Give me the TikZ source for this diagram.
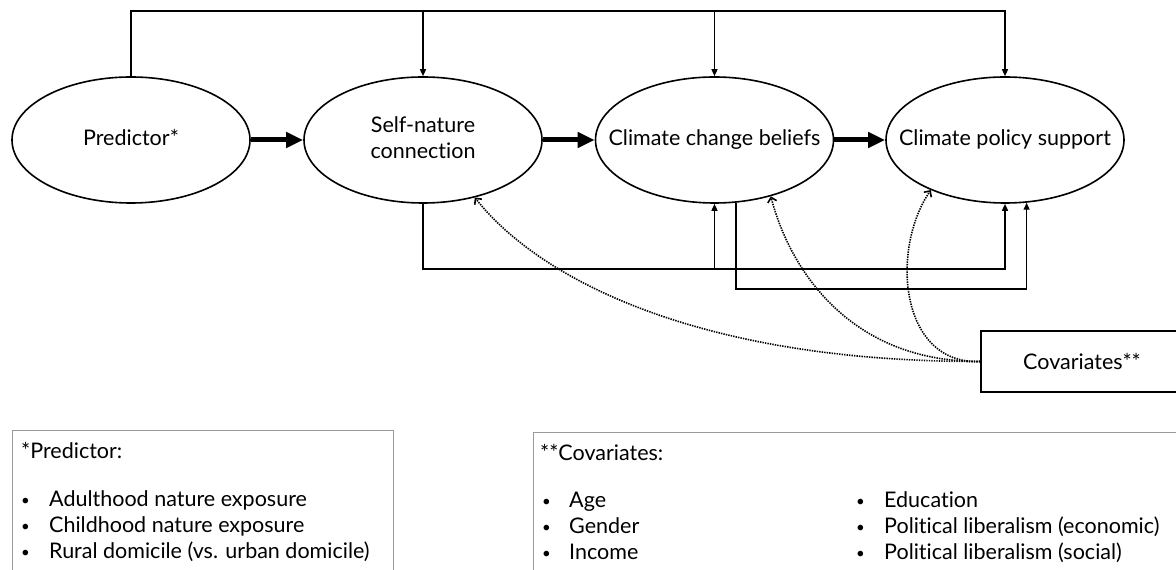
\documentclass[tikz,border=0pt]{standalone}
\usepackage{fontspec}
\setmainfont[Ligatures={NoCommon}]{Lato}
\usetikzlibrary{arrows.meta,shapes.geometric}
\newcommand{\fitin}[1]{\makebox[0pt][c]{\begin{tabular}{@{}c@{}}#1\end{tabular}}}
\newcommand{\smbul}{\raisebox{1pt}{\fontsize{15}{15}\selectfont\textbullet}}
\begin{document}
\begin{tikzpicture}[x=1pt,y=1pt,
  every node/.style={font=\fontsize{21.5}{26}\selectfont},
  latent/.style={ellipse, draw, line width=1.6pt, minimum width=238pt, minimum height=126pt, inner sep=0pt, align=center},
  bigarrow/.style={line width=5pt, -{Triangle[length=17pt,width=15pt]}},
  thinarrow/.style={line width=1.4pt, -{Triangle[length=7pt,width=6pt]}},
  dotarrow/.style={line width=1.6pt, dash pattern=on 1.4pt off 1.1pt, -{Straight Barb[length=4.5pt,width=9pt]}},
  covbox/.style={draw, line width=1.6pt, minimum width=202pt, minimum height=61pt, inner sep=0pt},
  notebox/.style={draw=black!40, line width=1.3pt, anchor=north west, inner sep=0pt},
  notetext/.style={anchor=west, inner sep=0pt},
  bullist/.style={anchor=west, inner sep=0pt, align=left}
]
\clip (0,0) rectangle (1176,570);
\useasboundingbox (0,0) rectangle (1176,570);

% latent nodes
\node[latent] (pred) at (131,430) {\fitin{Predictor*}};
\node[latent] (self) at (423,430) {\fitin{Self-nature\\connection}};
\node[latent] (bel) at (714.5,430) {\fitin{Climate change beliefs}};
\node[latent] (pol) at (1005,430) {\fitin{Climate policy support}};
\node[covbox] (cov) at (1082,208.5) {Covariates**};

% main chain
\draw[bigarrow] (pred.east) -- (self.west);
\draw[bigarrow] (self.east) -- (bel.west);
\draw[bigarrow] (bel.east) -- (pol.west);

% top connections
\coordinate (top) at (131,559);
\draw[thinarrow] (pred.north) -- (top) -| (pol.north);
\draw[thinarrow] (self.north |- top) -- (self.north);
\draw[thinarrow] (bel.north |- top) -- (bel.north);

% bottom connections
\coordinate (b1) at (716,301);
\coordinate (b2) at (880,281);
\draw[thinarrow] (self.south) |- (b1) -| (pol.south);
\draw[thinarrow] (bel.south |- b1) -- (bel.south);
\draw[thinarrow] (bel.-71) |- (b2) -| (pol.-71);

% covariate paths
\draw[dotarrow] (cov.west) .. controls (700,208) and (540,290) .. (self.-48);
\draw[dotarrow] (cov.west) .. controls (850,208) and (790,300) .. (bel.-45);
\draw[dotarrow] (cov.west) .. controls (900,205) and (890,320) .. (pol.-146);

% note boxes
\node[notebox, minimum width=381pt, minimum height=160pt] (pbox) at (12,140) {};
\node[notebox, minimum width=700pt, minimum height=160pt] (cbox) at (532.5,138) {};

\node[notetext] (ptitle) at (21,120) {*Predictor:};
\node[bullist] (plist) at (21,43) {\begin{tabular}{@{}p{28pt}@{}l@{}}
\smbul & Adulthood nature exposure\\
\smbul & Childhood nature exposure\\
\smbul & Rural domicile (vs. urban domicile)
\end{tabular}};

\node[notetext] (ctitle) at (540,118) {**Covariates:};
\node[bullist] (clist1) at (542,42) {\begin{tabular}{@{}p{27pt}@{}l@{}}
\smbul & Age\\
\smbul & Gender\\
\smbul & Income
\end{tabular}};
\node[bullist] (clist2) at (856,42) {\begin{tabular}{@{}p{28pt}@{}l@{}}
\smbul & Education\\
\smbul & Political liberalism (economic)\\
\smbul & Political liberalism (social)
\end{tabular}};
\end{tikzpicture}
\end{document}
